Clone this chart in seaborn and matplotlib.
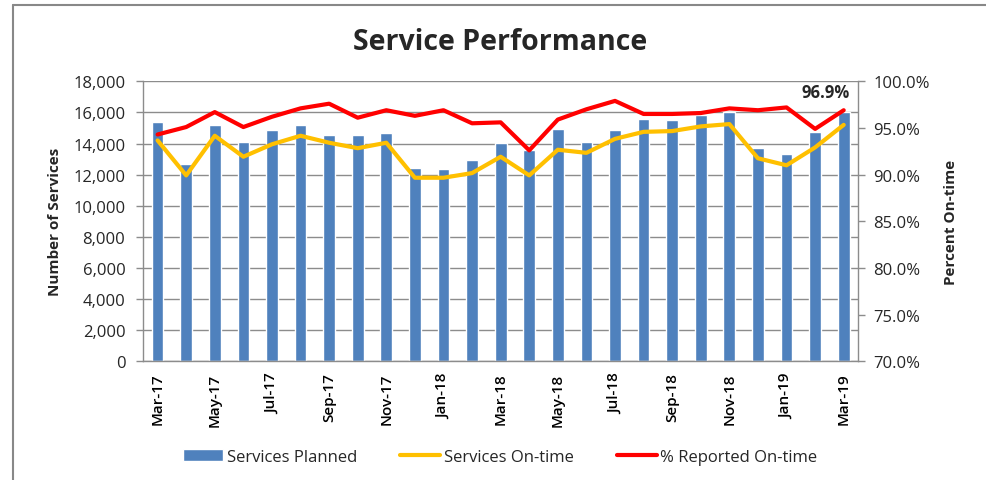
import numpy as np
import pandas as pd
import matplotlib.pyplot as plt
import seaborn as sns
from matplotlib.patches import Patch
from matplotlib.lines import Line2D
from matplotlib.ticker import FuncFormatter

# monthly service data, Mar-17 .. Mar-19
months = ['Mar-17', 'Apr-17', 'May-17', 'Jun-17', 'Jul-17', 'Aug-17', 'Sep-17',
          'Oct-17', 'Nov-17', 'Dec-17', 'Jan-18', 'Feb-18', 'Mar-18', 'Apr-18',
          'May-18', 'Jun-18', 'Jul-18', 'Aug-18', 'Sep-18', 'Oct-18', 'Nov-18',
          'Dec-18', 'Jan-19', 'Feb-19', 'Mar-19']
planned = [15400, 12700, 15200, 14100, 14850, 15200, 14550, 14550, 14650, 12450,
           12350, 12950, 14050, 13600, 14950, 14100, 14850, 15550, 15500, 15850,
           16050, 13700, 13350, 14750, 16050]
on_time = [14200, 11950, 14500, 13150, 13950, 14500, 14050, 13700, 14050, 11800,
           11800, 12100, 13150, 11950, 13600, 13400, 14300, 14750, 14800, 15100,
           15250, 13050, 12600, 13750, 15200]
pct_reported = [94.3, 95.1, 96.7, 95.1, 96.2, 97.1, 97.6, 96.1, 96.9, 96.3, 96.9,
                95.5, 95.6, 92.6, 95.9, 97.0, 97.9, 96.5, 96.5, 96.6, 97.1, 96.9,
                97.2, 94.9, 96.9]

df = pd.DataFrame({'month': months, 'planned': planned, 'on_time': on_time,
                   'pct': pct_reported})
df['pos'] = np.arange(len(df))

sns.set_style('white')
plt.rcParams['font.family'] = ['Open Sans', 'DejaVu Sans']

BLUE = '#4F81BD'
YELLOW = '#FFC000'
RED = '#FF0000'
GRID = '#8C8C8C'

fig = plt.figure(figsize=(9.87, 4.81), dpi=100)
ax = fig.add_axes([0.1452, 0.2468, 0.7241, 0.5821])

ax.grid(axis='y', color=GRID, lw=1)
ax.set_axisbelow(True)
sns.barplot(data=df, x='month', y='planned', color=BLUE, saturation=1,
            width=0.41, ax=ax)
sns.lineplot(data=df, x='pos', y='on_time', color=YELLOW, lw=3, ax=ax,
             legend=False)

ax.set_xlim(-0.5, len(df) - 0.5)
ax.set_ylim(0, 18000)
ax.set_yticks(range(0, 18001, 2000))
ax.yaxis.set_major_formatter(FuncFormatter(lambda v, p: f'{v:,.0f}'))
ax.set_xticks(df['pos'][::2])
ax.set_xticklabels(df['month'][::2], rotation=90, fontsize=11, color='black',
                   fontweight='semibold')
ax.set_xticks(np.arange(-0.5, len(df), 2), minor=True)
ax.tick_params(axis='x', which='major', length=0, pad=8)
ax.tick_params(axis='x', which='minor', length=5, color=GRID, width=1)
ax.tick_params(axis='y', length=5, color=GRID, width=1, labelsize=12,
               labelcolor='#262626', left=True, pad=8)
ax.set_xlabel('')
ax.set_ylabel('Number of Services', fontsize=11, fontweight='bold', labelpad=8)
for s in ['top', 'right']:
    ax.spines[s].set_visible(False)
for s in ['left', 'bottom']:
    ax.spines[s].set_color(GRID)
    ax.spines[s].set_linewidth(1)

ax2 = ax.twinx()
sns.lineplot(data=df, x='pos', y='pct', color=RED, lw=3, ax=ax2, legend=False)
ax2.set_ylim(70, 100)
ax2.set_yticks(range(70, 101, 5))
ax2.yaxis.set_major_formatter(FuncFormatter(lambda v, p: f'{v:.1f}%'))
ax2.tick_params(axis='y', length=5, color=GRID, width=1, labelsize=12,
                labelcolor='#262626', right=True, pad=6)
ax2.set_ylabel('Percent On-time', fontsize=11, fontweight='bold', labelpad=10)
for s in ['top', 'left', 'bottom']:
    ax2.spines[s].set_visible(False)
ax2.spines['right'].set_color(GRID)
ax2.spines['right'].set_linewidth(1)
ax2.set_xlim(-0.5, len(df) - 0.5)

ax2.annotate(f'{pct_reported[-1]:.1f}%', xy=(df['pos'].iloc[-1], pct_reported[-1]),
             xytext=(-13, 13), textcoords='offset points', ha='center',
             va='center', fontsize=12, fontweight='bold')

fig.text(0.507, 1 - 42 / 481, 'Service Performance', ha='center', va='center',
         fontsize=20.5, fontweight='bold')

handles = [Patch(facecolor=BLUE), Line2D([], [], color=YELLOW, lw=3),
           Line2D([], [], color=RED, lw=3)]
fig.legend(handles, ['Services Planned', 'Services On-time', '% Reported On-time'],
           loc='center', bbox_to_anchor=(0.507, 0.048), ncol=3, frameon=False,
           fontsize=12, handlelength=2.4, handletextpad=0.2, columnspacing=2.6)

# chart frame (left and top edges visible)
fx = 13.5 / 987
fy = 1 - 5.5 / 481
fig.add_artist(Line2D([fx, fx], [0, fy], color='#888888', lw=1.5))
fig.add_artist(Line2D([fx, 1], [fy, fy], color='#888888', lw=1.5))

fig.savefig('out.png', dpi=100)
